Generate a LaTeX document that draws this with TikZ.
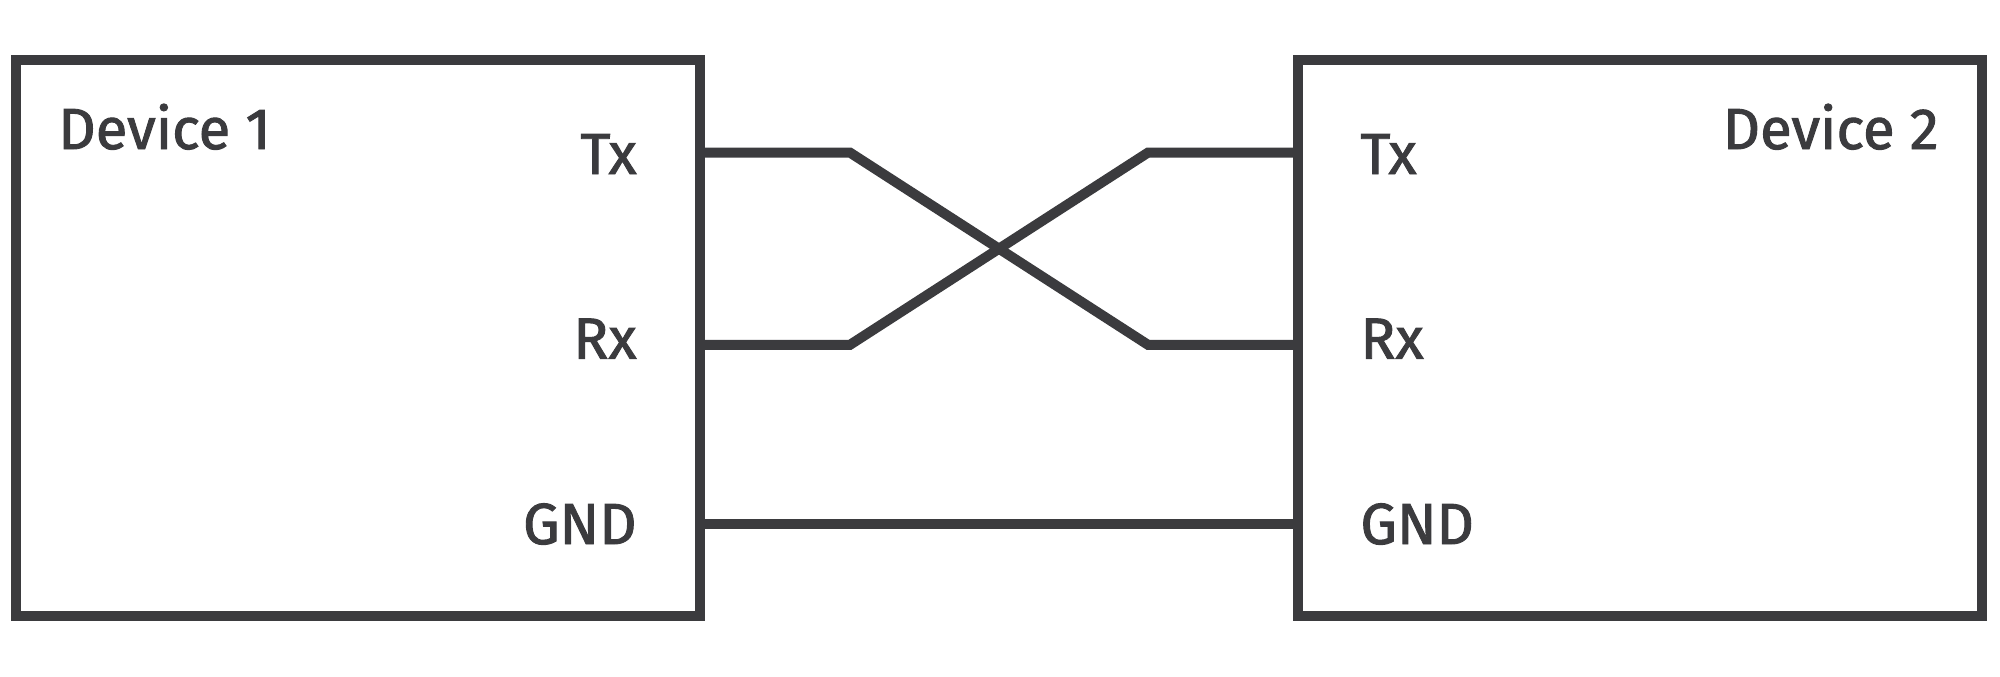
\documentclass[tikz,border=0pt]{standalone}
\usepackage{fontspec}
\setmainfont{Fira Sans}
\newfontfamily\labelfont{Fira Sans}[FakeBold=1.6]
\definecolor{ink}{HTML}{3B3B3E}
\tikzstyle{device}=[draw=ink, line width=5pt, minimum width=341.75pt, minimum height=277.75pt, inner sep=0pt]
\tikzstyle{wire}=[draw=ink, line width=5pt, line join=miter]
\tikzstyle{pinlabel}=[text=ink, font=\fontsize{29}{34}\labelfont, inner sep=0pt]

\begin{document}
\begin{tikzpicture}[x=0.5pt, y=-0.5pt]
\useasboundingbox (0,0) rectangle (2000,676);
% Pins on the box edges
    \coordinate (tx1) at (699.5,152.6);
    \coordinate (rx1) at (699.5,344.8);
    \coordinate (gnd1) at (699.5,524);
    \coordinate (tx2) at (1297.5,152.6);
    \coordinate (rx2) at (1297.5,344.8);
    \coordinate (gnd2) at (1297.5,524);
% Bends
    \coordinate (bend1) at (850,152.6);
    \coordinate (bend2) at (850,344.8);
    \coordinate (bend3) at (1148,344.8);
    \coordinate (bend4) at (1148,152.6);
% Wires
    \draw[wire] (tx1) -- (bend1) -- (bend3) -- (rx2);
    \draw[wire] (rx1) -- (bend2) -- (bend4) -- (tx2);
    \draw[wire] (gnd1) -- (gnd2);
% Devices
    \node[device] (dev1) at (357.75,337.75) {};
    \node[device] (dev2) at (1640,337.75) {};
% Labels
    \node[pinlabel, anchor=base west] (name1) at (58,149) {Device 1};
    \node[pinlabel, anchor=base east] (name2) at (1939,149) {Device 2};
    \node[pinlabel, anchor=base east] (txlabel1) at (637,174) {Tx};
    \node[pinlabel, anchor=base east] (rxlabel1) at (637,358.6) {Rx};
    \node[pinlabel, anchor=base east] (gndlabel1) at (637,544) {GND};
    \node[pinlabel, anchor=base west] (txlabel2) at (1360,174) {Tx};
    \node[pinlabel, anchor=base west] (rxlabel2) at (1360,358.6) {Rx};
    \node[pinlabel, anchor=base west] (gndlabel2) at (1360,544) {GND};
\end{tikzpicture}
\end{document}
